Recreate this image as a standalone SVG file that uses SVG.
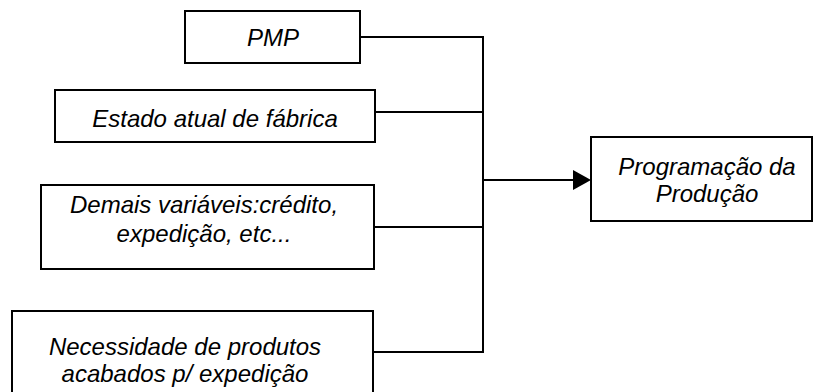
<svg xmlns="http://www.w3.org/2000/svg" width="813" height="392" viewBox="0 0 813 392">
<style>
.box{fill:#fff;stroke:#000;stroke-width:2}
.t{font-family:"Liberation Sans",Arial,sans-serif;font-style:italic;font-size:24px;fill:#000;text-anchor:middle}
.c{fill:none;stroke:#000;stroke-width:2}
</style>
<defs>
<marker id="arr" markerWidth="10" markerHeight="10" refX="10" refY="5" orient="auto" markerUnits="userSpaceOnUse" viewBox="0 0 10 10">
<path d="M0,0 L10,5 L0,10 Z" fill="#000"/>
</marker>
</defs>
<rect width="813" height="392" fill="#fff"/>
<g id="connectors">
<polyline class="c" points="360,37 483,37 483,352 373,352"/>
<line class="c" x1="375" y1="112" x2="483" y2="112"/>
<line class="c" x1="374" y1="227" x2="483" y2="227"/>
<line class="c" x1="483" y1="180" x2="573" y2="180"/>
<path d="M573,170 L591,180 L573,190 Z" fill="#000"/>
</g>
<g id="pmp">
<rect class="box" x="185" y="11" width="175" height="52"/>
<text class="t" x="273" y="46">PMP</text>
</g>
<g id="estado">
<rect class="box" x="55" y="90" width="320" height="52"/>
<text class="t" x="215" y="127">Estado atual de fábrica</text>
</g>
<g id="demais">
<rect class="box" x="41" y="185" width="333" height="84"/>
<text class="t" x="204" y="213">Demais variáveis:crédito,</text>
<text class="t" x="204" y="242">expedição, etc...</text>
</g>
<g id="necessidade">
<rect class="box" x="12" y="311" width="361" height="90"/>
<text class="t" x="185" y="355">Necessidade de produtos</text>
<text class="t" x="185" y="382">acabados p/ expedição</text>
</g>
<g id="programacao">
<rect class="box" x="591" y="137" width="221" height="84"/>
<text class="t" x="707" y="175">Programação da</text>
<text class="t" x="707" y="202">Produção</text>
</g>
</svg>
